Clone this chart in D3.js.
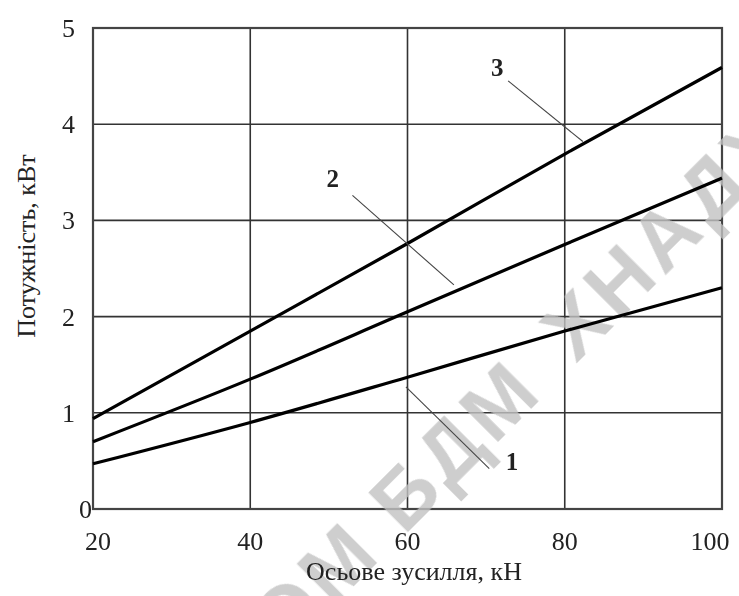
<!DOCTYPE html>
<html>
<head>
<meta charset="utf-8">
<script src="https://cdn.jsdelivr.net/npm/d3@7"></script>
<style>
  html, body { margin: 0; padding: 0; background: #fff; }
  svg { display: block; }
</style>
</head>
<body>
<svg id="chart" width="739" height="596"></svg>
<script>
// ---- data ----
const forceKN = [20, 40, 60, 80, 100];
const curve1 = [0.47, 0.90, 1.37, 1.85, 2.30];
const curve2 = [0.70, 1.35, 2.05, 2.75, 3.44];
const curve3 = [0.94, 1.85, 2.76, 3.69, 4.59];
const curveNames = ["1", "2", "3"];
const xTicks = [20, 40, 60, 80, 100];
const yTicks = [0, 1, 2, 3, 4, 5];
// leader lines: [labelX, labelY, fromX, fromY, toX, toY] in data units
const leader1 = [73.3, 0.50, 59.8, 1.27, 70.4, 0.42];
const leader2 = [50.5, 3.44, 53.0, 3.26, 65.9, 2.33];
const leader3 = [71.4, 4.59, 72.8, 4.45, 82.3, 3.82];
const xTitle = "Осьове зусилля, кН";
const yTitle = "Потужність, кВт";
const watermarkA = "ОМ БДМ";
const watermarkB = "ХНАДУ";

const svg = d3.select("#chart");
const x = d3.scaleLinear().domain([20, 100]).range([93, 722]);
const y = d3.scaleLinear().domain([0, 5]).range([509, 28]);
const serif = "'Liberation Serif', 'Times New Roman', serif";

// grid
const g = svg.append("g");
g.selectAll(".vg").data(xTicks).join("line")
  .attr("x1", d => x(d)).attr("x2", d => x(d))
  .attr("y1", y(0)).attr("y2", y(5))
  .attr("stroke", "#333").attr("stroke-width", 1.6);
g.selectAll(".hg").data(yTicks).join("line")
  .attr("x1", x(20)).attr("x2", x(100))
  .attr("y1", d => y(d)).attr("y2", d => y(d))
  .attr("stroke", "#333").attr("stroke-width", 1.6);
// frame
svg.append("rect")
  .attr("x", x(20)).attr("y", y(5))
  .attr("width", x(100) - x(20)).attr("height", y(0) - y(5))
  .attr("fill", "none").attr("stroke", "#444").attr("stroke-width", 2.2);

// watermark
const wm = svg.append("g").attr("fill", "#c2c2c2").attr("opacity", 0.8)
  .attr("font-family", "'Liberation Sans', Arial, sans-serif").attr("font-weight", "bold")
  .attr("font-size", 82).attr("letter-spacing", 5);
wm.append("text").attr("transform", "translate(546,394) rotate(-45)")
  .attr("text-anchor", "end").text(watermarkA);
wm.append("text").attr("transform", "translate(576,364) rotate(-45)")
  .attr("text-anchor", "start").text(watermarkB);

// curves
const line = d3.line().x(d => x(d[0])).y(d => y(d[1])).curve(d3.curveMonotoneX);
[curve1, curve2, curve3].forEach(c => {
  svg.append("path")
    .datum(forceKN.map((f, i) => [f, c[i]]))
    .attr("d", line)
    .attr("fill", "none").attr("stroke", "#000").attr("stroke-width", 3.2);
});

// leaders and labels
[leader1, leader2, leader3].forEach((L, i) => {
  svg.append("line")
    .attr("x1", x(L[2])).attr("y1", y(L[3]))
    .attr("x2", x(L[4])).attr("y2", y(L[5]))
    .attr("stroke", "#444").attr("stroke-width", 1.1);
  svg.append("text")
    .attr("x", x(L[0])).attr("y", y(L[1]))
    .attr("dy", "0.35em").attr("text-anchor", "middle")
    .attr("font-family", serif).attr("font-size", 25).attr("font-weight", "bold")
    .attr("fill", "#222").text(curveNames[i]);
});

// x tick labels
const xNudge = {20: 5, 100: -12};
svg.selectAll(".xt").data(xTicks).join("text")
  .attr("x", d => x(d) + (xNudge[d] || 0)).attr("y", 550)
  .attr("text-anchor", "middle")
  .attr("font-family", serif).attr("font-size", 26).attr("fill", "#222")
  .text(d => d);
// y tick labels
svg.selectAll(".yt").data(yTicks).join("text")
  .attr("x", d => d === 0 ? 92 : 75).attr("y", d => y(d) + 9)
  .attr("text-anchor", "end")
  .attr("font-family", serif).attr("font-size", 26).attr("fill", "#222")
  .text(d => d);

// titles
svg.append("text")
  .attr("x", 414).attr("y", 580).attr("text-anchor", "middle")
  .attr("font-family", serif).attr("font-size", 26).attr("fill", "#222")
  .text(xTitle);
svg.append("text")
  .attr("transform", "translate(35,246) rotate(-90)").attr("text-anchor", "middle")
  .attr("font-family", serif).attr("font-size", 26).attr("fill", "#222")
  .text(yTitle);
</script>
</body>
</html>
